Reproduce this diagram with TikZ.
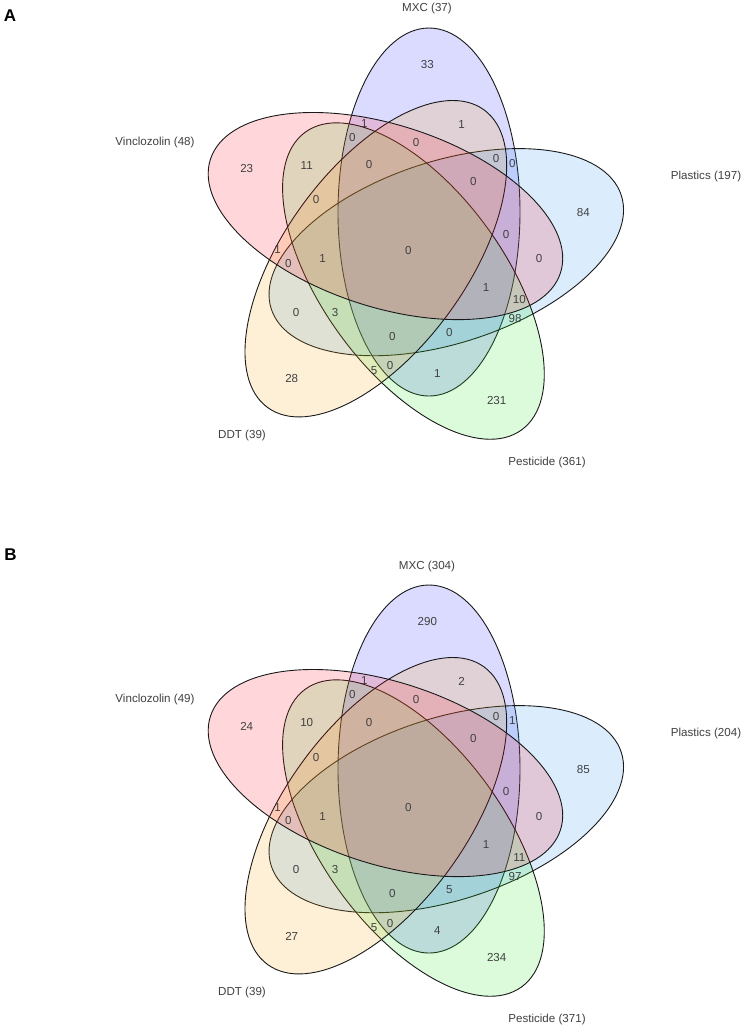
\documentclass[tikz,border=0pt]{standalone}
\usepackage{fontspec}
\setmainfont{Liberation Sans}
\usepackage{xcolor}
\usetikzlibrary{positioning}

\definecolor{mxccol}{RGB}{40,40,255}
\definecolor{placol}{RGB}{40,150,240}
\definecolor{pescol}{RGB}{40,230,40}
\definecolor{ddtcol}{RGB}{250,165,20}
\definecolor{vincol}{RGB}{255,20,40}
\definecolor{txtgris}{RGB}{64,64,64}

\begin{document}
\begin{tikzpicture}[x=1pt,y=-1pt,
    lab/.style={font=\fontsize{11.6}{13}\selectfont, text=txtgris, inner sep=0pt},
    titre/.style={font=\fontsize{17}{19}\selectfont\bfseries, inner sep=0pt},
    bord/.style={draw=black!90, line width=0.9pt, fill opacity=0.17}]
    \def\ox{410}     % centre du diagramme
    \def\oy{244}
    \def\rayon{37.2} % distance des centres
    \def\grand{184}  % demi grand axe
    \def\petit{91}   % demi petit axe
    \def\dB{557}     % decalage du panneau B

    \useasboundingbox (0,0) rectangle (748,1032);

    % Ellipses (MXC, Plastics, Pesticide, DDT, Vinclozolin)
    \foreach \dy in {0,\dB}{
      \foreach \k/\col in {0/mxccol, 1/placol, 2/pescol, 3/ddtcol, 4/vincol}{
        \pgfmathsetmacro{\cx}{\ox+\rayon*sin(30.7+72*\k)}
        \pgfmathsetmacro{\cy}{\oy+\dy-\rayon*cos(30.7+72*\k)}
        \pgfmathsetmacro{\ang}{90-72*\k}
        \draw[bord, fill=\col, rotate around={\ang:(\cx,\cy)}] (\cx,\cy) ellipse [x radius=\grand, y radius=\petit];
      }
    }

    % Effectifs des regions (A / B)
    \foreach \x/\y/\na/\nb [count=\i] in {
        246.7/169/23/24, 306.7/165.7/11/10, 364.3/123.3/1/1, 352.3/137.7/0/0,
        369/165/0/0, 416/142.3/0/0, 316/200/0/0, 427.3/64.3/33/290,
        461.7/124.3/1/2, 496/159/0/0, 512.3/163.3/0/1, 473.3/181.7/0/0,
        583.3/212.3/84/85, 506/234.3/0/0, 277.7/250/1/1, 288.3/263.3/0/0,
        322.7/259/1/1, 408.3/250.7/0/0, 296/312.3/0/0, 335/312.3/3/3,
        392.3/336.7/0/0, 374/371/5/5, 390/366/0/0, 291.7/379/28/27,
        539/259/0/0, 486/287.7/1/1, 519.3/300/10/11, 515/319/98/97,
        449.3/332.7/0/5, 437.3/373.3/1/4, 496.7/400.7/231/234}{
        \node[lab] (a\i) at (\x,\y) {\na};
        \node[lab] (b\i) at (\x,\y+\dB) {\nb};
    }

    % Noms des ensembles
    \foreach \x/\y/\la/\lb/\nom in {
        427/9/{MXC (37)}/{MXC (304)}/mxc,
        706/176/{Plastics (197)}/{Plastics (204)}/pla,
        155/142/{Vinclozolin (48)}/{Vinclozolin (49)}/vin,
        547/462/{Pesticide (361)}/{Pesticide (371)}/pes,
        242/435/{DDT (39)}/{DDT (39)}/ddt}{
        \node[lab] (\nom A) at (\x,\y) {\la};
        \node[lab] (\nom B) at (\x,\y+\dB) {\lb};
    }

    \node[titre] (lettreA) at (10,16) {A};
    \node[titre] (lettreB) at (10.5,555) {B};
\end{tikzpicture}
\end{document}
